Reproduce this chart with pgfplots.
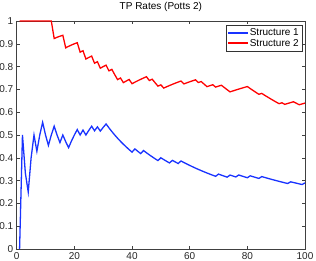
\documentclass[border=0pt]{standalone}
\usepackage{fontspec}
\setmainfont{Liberation Sans}
\usepackage{pgfplots}
\pgfplotsset{compat=1.18}
\definecolor{sblue}{rgb}{0.1,0.2,1}
\definecolor{sred}{rgb}{1,0,0}
\begin{document}
\begin{tikzpicture}
\path[use as bounding box] (-16.7bp,-12bp) rectangle (299.3bp,249bp);
\begin{axis}[
  scale only axis,
  width=288.3bp, height=228bp,
  xmin=0, xmax=100, ymin=0, ymax=1,
  xtick={0,20,40,60,80,100},
  ytick={0,0.1,0.2,0.3,0.4,0.5,0.6,0.7,0.8,0.9,1},
  yticklabels={0,0.1,0.2,0.3,0.4,0.5,0.6,0.7,0.8,0.9,1},
  tick align=inside,
  major tick length=3bp,
  axis line style={draw=black!75, line width=0.5pt},
  every tick/.style={black!75, line width=0.5pt},
  tick label style={font=\fontsize{10bp}{12bp}\selectfont, text=black!85},
  /pgf/number format/assume math mode=true,
  title={TP Rates (Potts 2)},
  title style={at={(0.5,1)}, anchor=base, yshift=6bp, font=\fontsize{10bp}{12bp}\selectfont},
  legend style={at={(0.99,0.983)}, anchor=north east, draw=black!80,
    font=\fontsize{10bp}{12bp}\selectfont, inner sep=1.2pt, row sep=-1.5bp, fill=white},
  legend cell align=left,
  legend image code/.code={\fill[#1, draw=none] (0bp,-1bp) rectangle (20bp,1bp);},
]
\addplot[sblue, line width=1.3pt] coordinates {
(1,0) (2,0.5) (3,0.3333) (4,0.25) (5,0.4) (6,0.5) (7,0.4286) (8,0.5) (9,0.5556) (10,0.5)
(11,0.4545) (12,0.5) (13,0.5385) (14,0.5) (15,0.4667) (16,0.5) (17,0.4706) (18,0.4444) (19,0.4737) (20,0.5)
(21,0.5238) (22,0.5) (23,0.5217) (24,0.5) (25,0.52) (26,0.5385) (27,0.5185) (28,0.5357) (29,0.5172) (30,0.5333)
(31,0.5484) (32,0.5313) (33,0.5152) (34,0.5) (35,0.4857) (36,0.4722) (37,0.4595) (38,0.4474) (39,0.4359) (40,0.425)
(41,0.4390) (42,0.4286) (43,0.4186) (44,0.4318) (45,0.4222) (46,0.4130) (47,0.4043) (48,0.3958) (49,0.3878) (50,0.4)
(51,0.3922) (52,0.3846) (53,0.3774) (54,0.3889) (55,0.3818) (56,0.375) (57,0.3860) (58,0.3793) (59,0.3729) (60,0.3667)
(61,0.3607) (62,0.3548) (63,0.3492) (64,0.3438) (65,0.3385) (66,0.3333) (67,0.3284) (68,0.3235) (69,0.3188) (70,0.3286)
(71,0.3239) (72,0.3194) (73,0.3151) (74,0.3243) (75,0.32) (76,0.3158) (77,0.3247) (78,0.3205) (79,0.3165) (80,0.3125)
(81,0.3210) (82,0.3171) (83,0.3133) (84,0.3095) (85,0.3176) (86,0.3140) (87,0.3103) (88,0.3068) (89,0.3034) (90,0.3)
(91,0.2967) (92,0.2935) (93,0.2903) (94,0.2872) (95,0.2947) (96,0.2917) (97,0.2887) (98,0.2857) (99,0.2828) (100,0.29)
};
\addlegendentry{Structure 1}
\addplot[sred, line width=1.3pt] coordinates {
(1,1) (2,1) (3,1) (4,1) (5,1) (6,1) (7,1) (8,1) (9,1) (10,1)
(11,1) (12,1) (13,0.9231) (14,0.9286) (15,0.9333) (16,0.9375) (17,0.8824) (18,0.8889) (19,0.8947) (20,0.9)
(21,0.9048) (22,0.8636) (23,0.8696) (24,0.8333) (25,0.84) (26,0.8462) (27,0.8148) (28,0.8214) (29,0.7931) (30,0.8)
(31,0.8065) (32,0.7813) (33,0.7879) (34,0.7647) (35,0.7429) (36,0.75) (37,0.7297) (38,0.7368) (39,0.7436) (40,0.725)
(41,0.7317) (42,0.7381) (43,0.7442) (44,0.75) (45,0.7556) (46,0.7391) (47,0.7447) (48,0.7292) (49,0.7143) (50,0.72)
(51,0.7059) (52,0.7115) (53,0.7170) (54,0.7222) (55,0.7273) (56,0.7321) (57,0.7368) (58,0.7241) (59,0.7288) (60,0.7333)
(61,0.7377) (62,0.7419) (63,0.7302) (64,0.7344) (65,0.7231) (66,0.7121) (67,0.7164) (68,0.7206) (69,0.7101) (70,0.7143)
(71,0.7183) (72,0.7083) (73,0.6986) (74,0.6892) (75,0.6933) (76,0.6974) (77,0.7013) (78,0.7051) (79,0.7089) (80,0.7125)
(81,0.7037) (82,0.6951) (83,0.6867) (84,0.6786) (85,0.6824) (86,0.6744) (87,0.6667) (88,0.6591) (89,0.6517) (90,0.6444)
(91,0.6374) (92,0.6413) (93,0.6344) (94,0.6383) (95,0.6421) (96,0.6458) (97,0.6392) (98,0.6327) (99,0.6364) (100,0.64)
};
\addlegendentry{Structure 2}
\end{axis}
\end{tikzpicture}
\end{document}
